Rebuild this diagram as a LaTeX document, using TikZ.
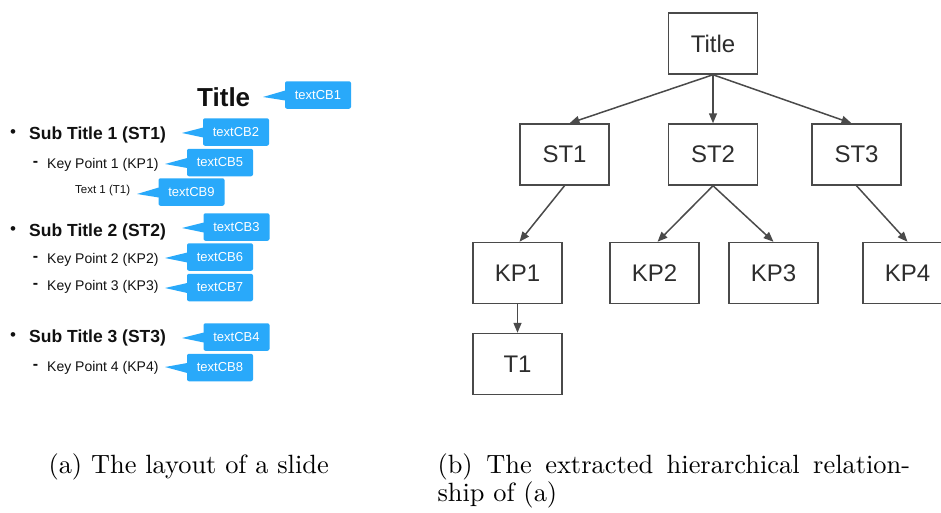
\documentclass[tikz,border=0pt]{standalone}
\usepackage{fontspec}
\setsansfont{Liberation Sans}
\usetikzlibrary{arrows.meta}
\definecolor{cbblue}{RGB}{41,169,250}
\definecolor{boxline}{RGB}{74,74,74}
\definecolor{boxtext}{RGB}{45,45,45}
\definecolor{slidetext}{RGB}{17,17,17}

\begin{document}
\begin{tikzpicture}[x=1pt,y=-1pt,
  cb/.style={fill=cbblue, text=white, rounded corners=2pt,
    minimum width=66pt, minimum height=27.5pt, inner sep=0pt,
    font=\sffamily\fontsize{13}{15}\selectfont},
  pointer/.style={fill=cbblue},
  slide/.style={anchor=west, inner sep=0pt, text=slidetext},
  sthead/.style={slide, font=\sffamily\bfseries\fontsize{17.5}{20}\selectfont},
  kpitem/.style={slide, font=\sffamily\fontsize{14}{16}\selectfont},
  listmark/.style={inner sep=0pt, text=slidetext},
  dashmark/.style={listmark, font=\sffamily\bfseries\fontsize{16}{18}\selectfont},
  dotmark/.style={listmark, font=\sffamily\fontsize{17}{20}\selectfont},
  treebox/.style={draw=boxline, line width=1.5pt, minimum width=89pt,
    minimum height=61pt, inner sep=0pt, text=boxtext,
    font=\sffamily\fontsize{24}{28}\selectfont},
  link/.style={draw=boxline, line width=1.5pt,
    -{Triangle[length=10pt,width=8pt]}},
  caption/.style={inner sep=0pt, scale=2.64, font=\fontsize{10}{11}\selectfont}
]
\clip (0,0) rectangle (941,512);
\fill[white] (0,0) rectangle (941,512);

% ---- slide layout with text callouts ----
\node[slide, font=\sffamily\bfseries\fontsize{26}{30}\selectfont] (ttl) at (197,97) {Title};
\node[cb] (cb1) at (318,95) {textCB1};
\coordinate (p1) at (263,97);

\node[dotmark] (b1) at (13,134) {•};
\node[sthead] (st1) at (29,135) {Sub Title 1 (ST1)};
\node[cb] (cb2) at (236,132) {textCB2};
\coordinate (p2) at (182,133);

\node[dashmark] (d1) at (35.5,164) {-};
\node[kpitem] (kp1) at (47,165) {Key Point 1 (KP1)};
\node[cb] (cb5) at (220,162.5) {textCB5};
\coordinate (p5) at (165,164);

\node[slide, font=\sffamily\fontsize{11.5}{14}\selectfont] (t1) at (75,191) {Text 1 (T1)};
\node[cb] (cb9) at (191.5,192) {textCB9};
\coordinate (p9) at (137,194);

\node[dotmark] (b2) at (13,231) {•};
\node[sthead] (st2) at (29,232) {Sub Title 2 (ST2)};
\node[cb] (cb3) at (236.5,227) {textCB3};
\coordinate (p3) at (182,228);

\node[dashmark] (d2) at (35.5,259) {-};
\node[kpitem] (kp2) at (47,260) {Key Point 2 (KP2)};
\node[cb] (cb6) at (220,257) {textCB6};
\coordinate (p6) at (165,258);

\node[dashmark] (d3) at (35.5,286) {-};
\node[kpitem] (kp3) at (47,287) {Key Point 3 (KP3)};
\node[cb] (cb7) at (220,287.5) {textCB7};
\coordinate (p7) at (165,288);

\node[dotmark] (b3) at (13,337) {•};
\node[sthead] (st3) at (29,338) {Sub Title 3 (ST3)};
\node[cb] (cb4) at (236.5,337) {textCB4};
\coordinate (p4) at (182,338);

\node[dashmark] (d4) at (35.5,367) {-};
\node[kpitem] (kp4) at (47,368) {Key Point 4 (KP4)};
\node[cb] (cb8) at (220,367.5) {textCB8};
\coordinate (p8) at (165,367);

% callout pointers: a thin wedge from each tip to its bubble
\foreach \n in {1,...,9}
  \fill[pointer] (p\n) -- ([shift={(0.5pt,4.5pt)}]cb\n.west)
    -- ([shift={(0.5pt,-5.5pt)}]cb\n.west) -- cycle;

% ---- hierarchy tree ----
\node[treebox] (Title) at (713,43.5) {Title};
\node[treebox] (ST1) at (564.5,154.5) {ST1};
\node[treebox] (ST2) at (713,154.5) {ST2};
\node[treebox] (ST3) at (856.5,154.5) {ST3};
\node[treebox] (KP1) at (517.5,273) {KP1};
\node[treebox] (KP2) at (654.5,273) {KP2};
\node[treebox] (KP3) at (773.5,273) {KP3};
\node[treebox] (KP4) at (907.5,273) {KP4};
\node[treebox] (T1) at (517.5,364) {T1};

\draw[link] (Title.south) -- ([xshift=5pt]ST1.north);
\draw[link] (Title.south) -- (ST2.north);
\draw[link] (Title.south) -- ([xshift=-5pt]ST3.north);
\draw[link] (ST1.south) -- ([xshift=2pt]KP1.north);
\draw[link] (ST2.south) -- ([xshift=3pt]KP2.north);
\draw[link] (ST2.south) -- (KP3.north);
\draw[link] (ST3.south) -- (KP4.north);
\draw[link] (KP1.south) -- (T1.north);

% ---- sub-captions ----
\node[caption, anchor=base west] (capa) at (48,473) {(a) The layout of a slide};
\node[caption, anchor=base west] (capb1) at (437,473)
  {\makebox[179pt][s]{(b) The extracted hierarchical relation-}};
\node[caption, anchor=base west] (capb2) at (437,501) {ship of (a)};
\end{tikzpicture}
\end{document}
